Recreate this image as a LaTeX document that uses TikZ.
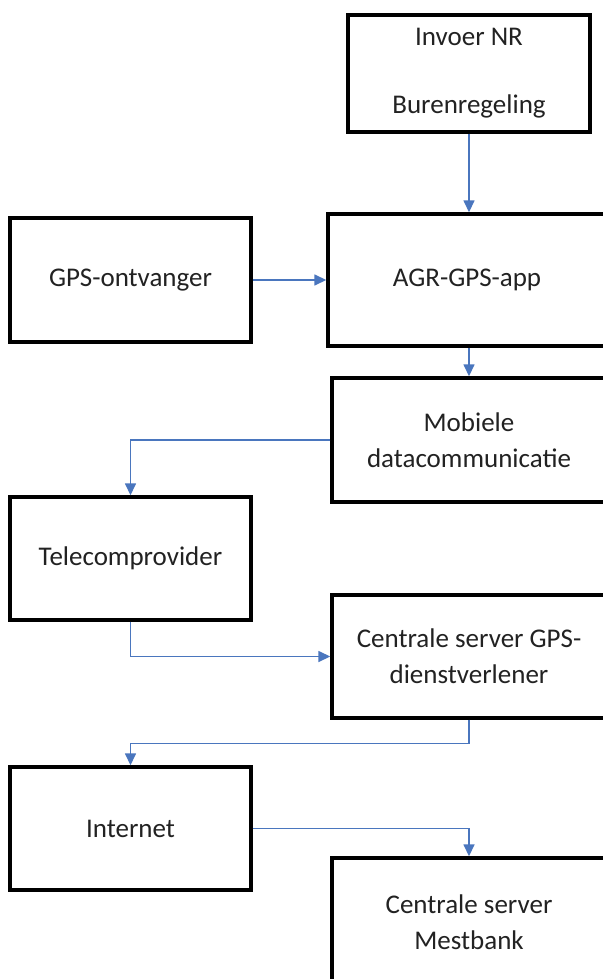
\documentclass[tikz,border=0pt]{standalone}
\usepackage{fontspec}
\setmainfont{Carlito}
\usetikzlibrary{arrows.meta}
\definecolor{connblue}{HTML}{4A76BE}
\definecolor{txt}{HTML}{222222}
\newcommand{\boxfont}{\fontsize{27pt}{36pt}\selectfont}
\begin{document}
\begin{tikzpicture}[x=1pt,y=-1pt,
  box/.style={draw=black, line width=3.4pt, inner sep=0pt, align=center, font=\boxfont, text=txt},
  conn/.style={draw=connblue, line width=1.5pt, -{Triangle[length=12pt,width=11pt]}}]
\useasboundingbox[fill=white] (0,0) rectangle (602,979);
\node[box, minimum width=242pt, minimum height=117pt] (inv) at (469,73.5) {Invoer NR\\[32pt]Burenregeling};
\node[box, minimum width=241pt, minimum height=124pt] (gps) at (130.5,280) {GPS-ontvanger};
\node[box, minimum width=278pt, minimum height=132pt] (agr) at (467,280) {AGR-GPS-app};
\node[box, minimum width=274pt, minimum height=124pt] (mob) at (469,440) {Mobiele\\datacommunicatie};
\node[box, minimum width=241pt, minimum height=123pt] (tel) at (130.5,558.5) {Telecomprovider};
\node[box, minimum width=274pt, minimum height=123pt] (cgps) at (469,656.5) {Centrale server GPS-\\dienstverlener};
\node[box, minimum width=241pt, minimum height=123pt] (int) at (130.5,828.5) {Internet};
\node[box, minimum width=274pt, minimum height=128pt] (mest) at (469,922) {Centrale server\\Mestbank};
\draw[conn] (inv.south) -- (inv.south |- agr.north);
\draw[conn] (gps.east) -- (agr.west |- gps.east);
\draw[conn] (mob.north |- agr.south) -- (mob.north);
\draw[conn] (mob.west) -| (tel.north);
\draw[conn] (tel.south) |- (cgps.west);
\coordinate (bend) at ([yshift=-24pt]cgps.south);
\draw[conn] (cgps.south) -- (bend) -| (int.north);
\draw[conn] (int.east) -| (mest.north);
\end{tikzpicture}
\end{document}
